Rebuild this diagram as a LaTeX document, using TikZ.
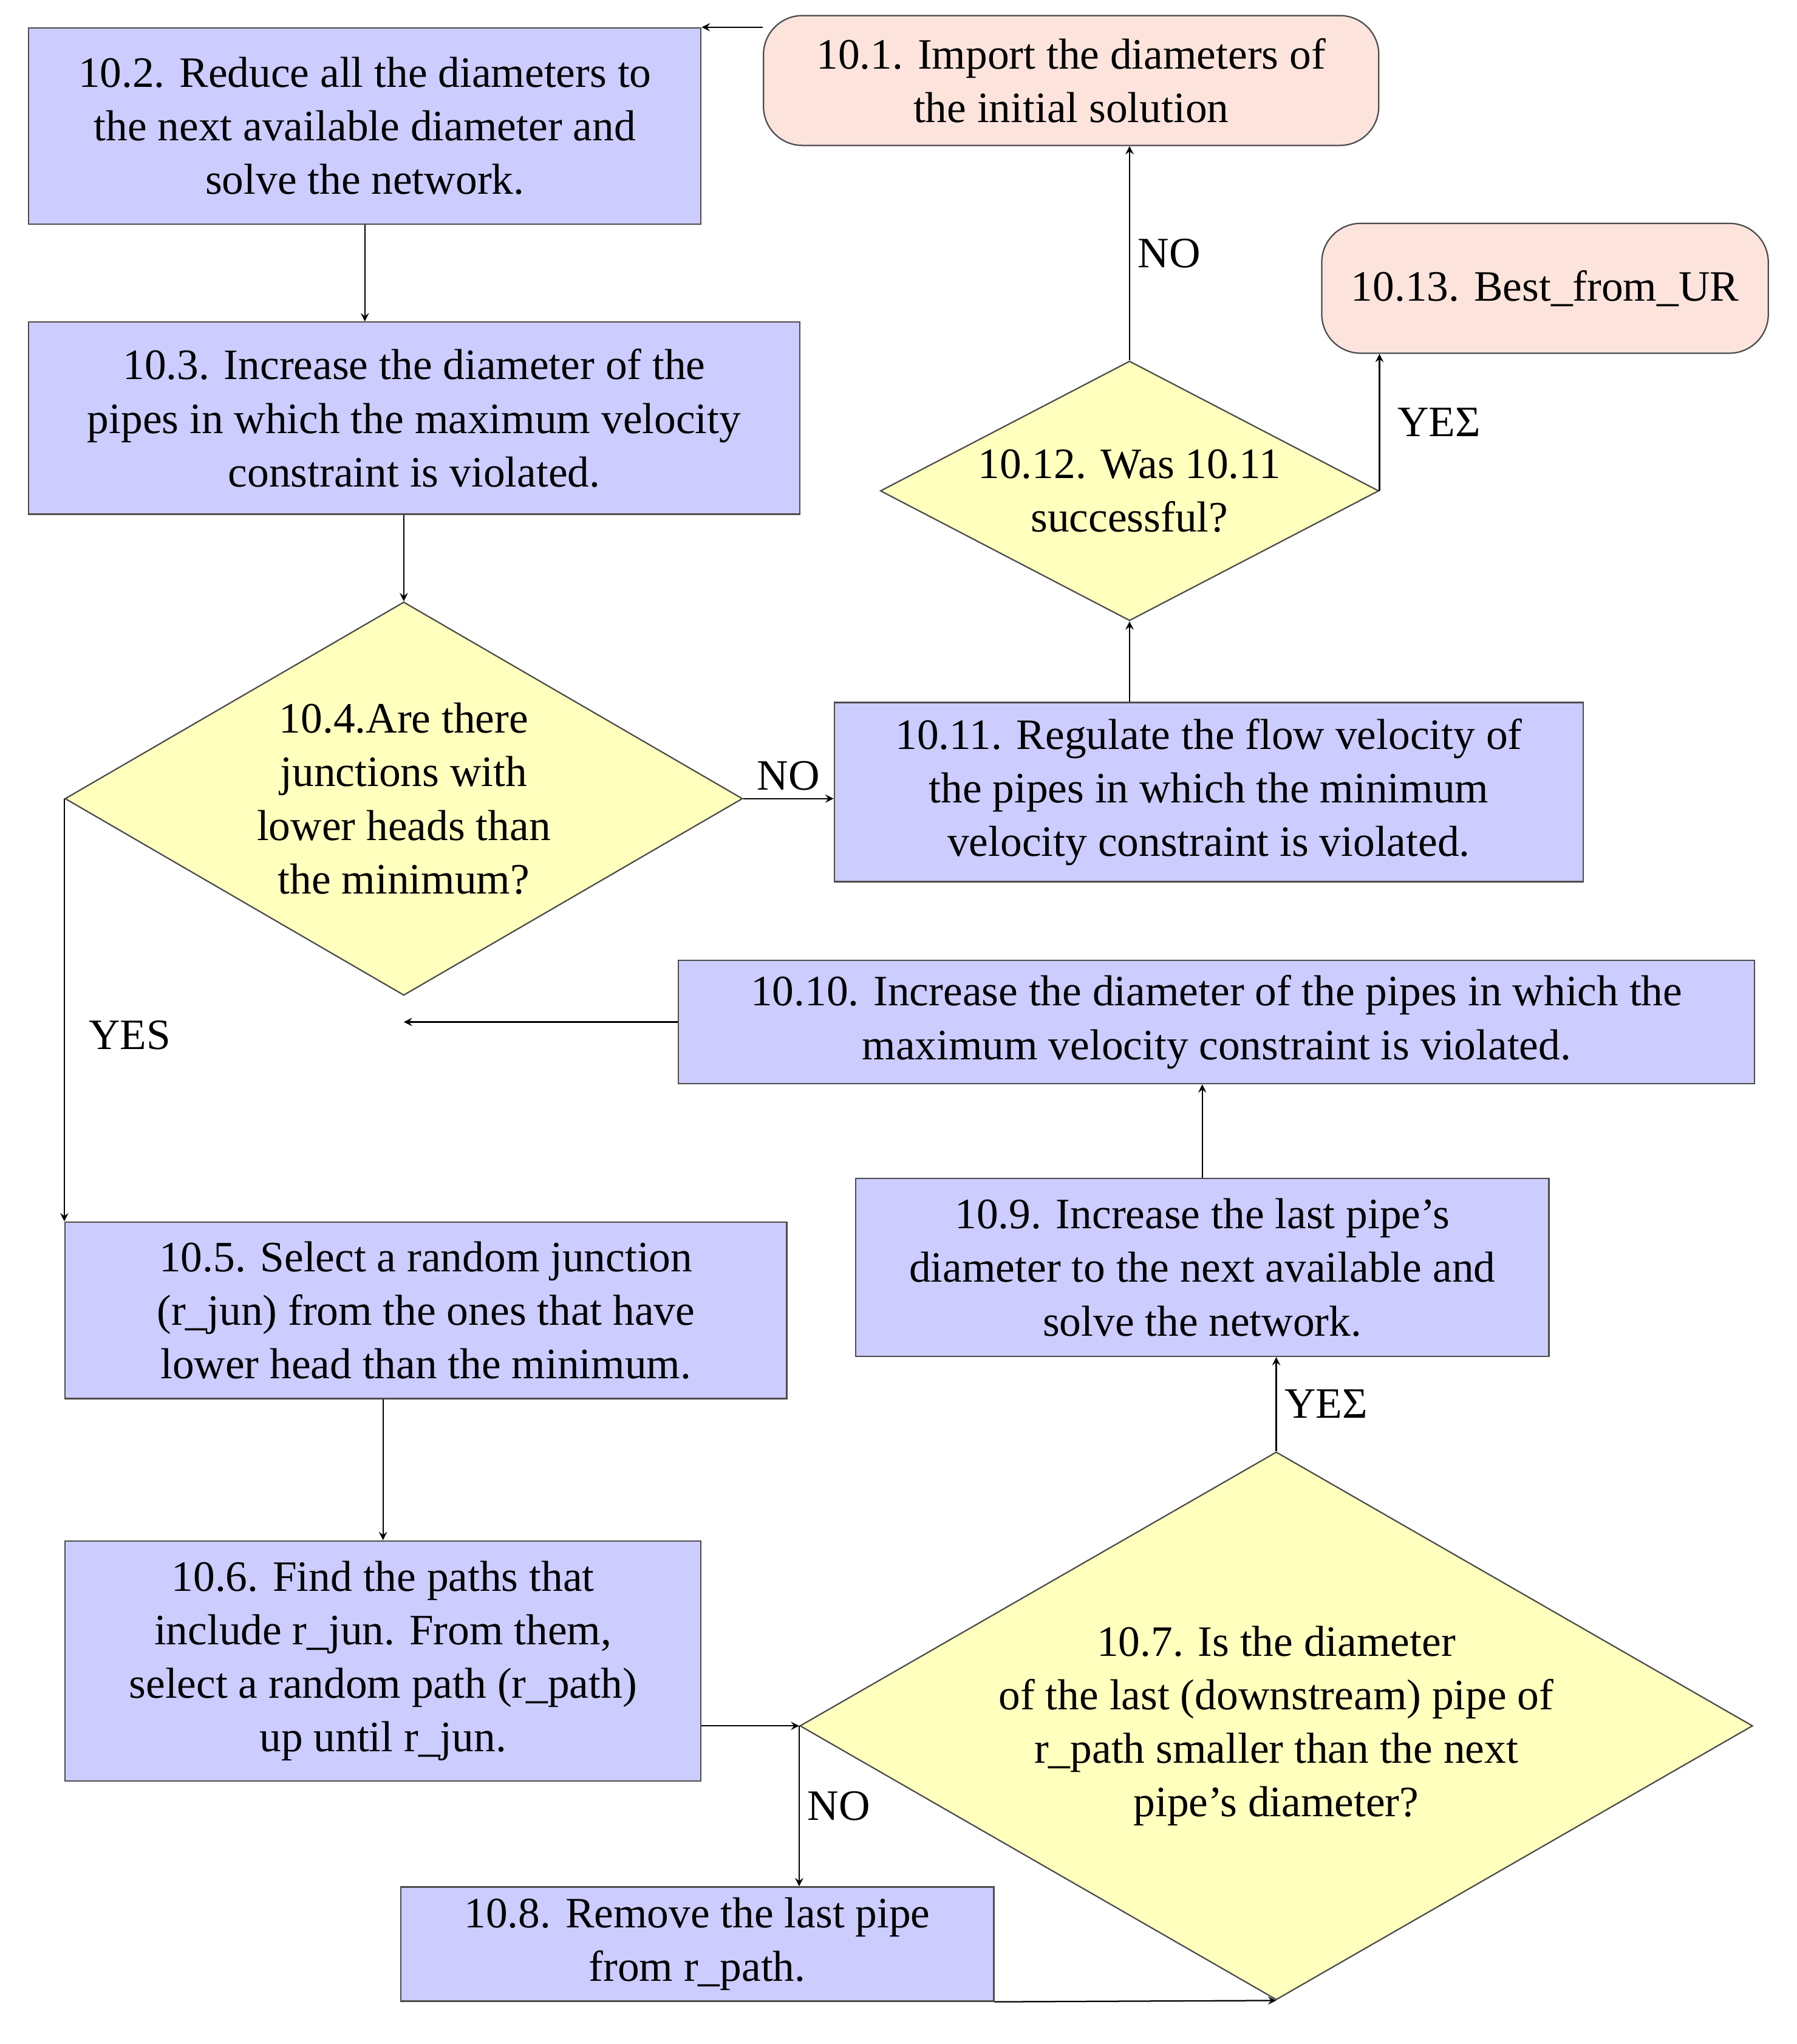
\documentclass[tikz,border=0pt]{standalone}
\usepackage{fontspec}
\setmainfont{Liberation Serif}
\usetikzlibrary{arrows,shapes.geometric,positioning}
\definecolor{boxblue}{RGB}{204,204,255}
\definecolor{boxpink}{RGB}{252,228,220}
\definecolor{boxyellow}{RGB}{255,255,190}

\begin{document}
\begin{tikzpicture}[x=0.02cm,y=-0.02cm,semithick,>=stealth,font=\fontsize{19}{23.5}\selectfont]
	  \tikzset{process/.style={rectangle,fill=boxblue,draw=black!70,align=center,inner sep=0pt}}
	  \tikzset{term/.style={rectangle,rounded corners=0.6cm,fill=boxpink,draw=black!70,align=center,inner sep=0pt}}
	  \tikzset{test/.style={diamond,fill=boxyellow,draw=black!70,inner sep=0pt}}
	  \tikzset{every label/.style={align=center,inner sep=0pt}}

	  \useasboundingbox (0,0) rectangle (1384,1574);

	  \node[term] (n1) [minimum width=9.48cm,minimum height=2cm] at (825,62) {10.1. Import the diameters of\\the initial solution};
	  \node[process] (n2) [minimum width=10.36cm,minimum height=3.02cm] at (281,97) {10.2. Reduce all the diameters to\\the next available diameter and\\solve the network.};
	  \node[process] (n3) [minimum width=11.88cm,minimum height=2.96cm] at (319,322) {10.3. Increase the diameter of the\\pipes in which the maximum velocity\\constraint is violated.};
	  \node[test] (n4) [minimum width=10.44cm,minimum height=6.06cm,label={center:10.4.Are there\\junctions with\\lower heads than\\the minimum?}] at (311,615) {};
	  \node[process] (n11) [minimum width=11.54cm,minimum height=2.76cm] at (931,610) {10.11. Regulate the flow velocity of\\the pipes in which the minimum\\velocity constraint is violated.};
	  \node[test] (n12) [minimum width=7.68cm,minimum height=4cm,label={center:10.12. Was 10.11\\successful?}] at (870,378) {};
	  \node[term] (n13) [minimum width=6.88cm,minimum height=2cm] at (1190,222) {10.13. Best\_from\_UR};
	  \node[process] (n10) [minimum width=16.58cm,minimum height=1.9cm] at (937,787) {10.10. Increase the diameter of the pipes in which the\\maximum velocity constraint is violated.};
	  \node[process] (n9) [minimum width=10.68cm,minimum height=2.74cm] at (926,976) {10.9. Increase the last pipe's\\diameter to the next available and\\solve the network.};
	  \node[process] (n5) [minimum width=11.12cm,minimum height=2.72cm] at (328,1009) {10.5. Select a random junction\\(r\_jun) from the ones that have\\lower head than the minimum.};
	  \node[process] (n6) [minimum width=9.8cm,minimum height=3.7cm] at (295,1279) {10.6. Find the paths that\\include r\_jun. From them,\\select a random path (r\_path)\\up until r\_jun.};
	  \node[test] (n7) [minimum width=14.68cm,minimum height=8.44cm,label={center:10.7. Is the diameter\\of the last (downstream) pipe of\\r\_path smaller than the next\\pipe's diameter?}] at (983,1329) {};
	  \node[process] (n8) [minimum width=9.14cm,minimum height=1.76cm] at (537,1497) {10.8. Remove the last pipe\\from r\_path.};

	  \draw[->] (n1.west |- n2.north east) -- (n2.north east);
	  \draw[->] (n2) -- (n2 |- n3.north);
	  \draw[->] (n3.south -| n4.north) -- (n4.north);
	  \draw[->] (n4.east) -- node[above]{NO} (n11.west |- n4.east);
	  \draw[->] (n4.west) -- (n4.west |- n5.north);
	  \node (yes4) at (100,797) {YES};
	  \draw[->] (n11.north -| n12.south) -- (n12.south);
	  \draw[->] (n12.north) -- node[right]{NO} (n12.north |- n1.south);
	  \draw[->] (n12.east) -- (n12.east |- n13.south);
	  \node[right] (yes12) at (1070,325) {ΥΕΣ};
	  \draw[->] (n10.west) -- (n10.west -| n4.south);
	  \draw[->] (n9.north) -- (n9.north |- n10.south);
	  \draw[->] (n6.north |- n5.south) -- (n6.north);
	  \draw[->] (n6.east |- n7.west) -- (n7.west);
	  \draw[->] (n7.west) -- node[right]{NO} (n7.west |- n8.north);
	  \draw[->] (n8.south east) -- (n7.south);
	  \draw[->] (n7.north) -- node[right]{ΥΕΣ} (n7.north |- n9.south);
\end{tikzpicture}
\end{document}
